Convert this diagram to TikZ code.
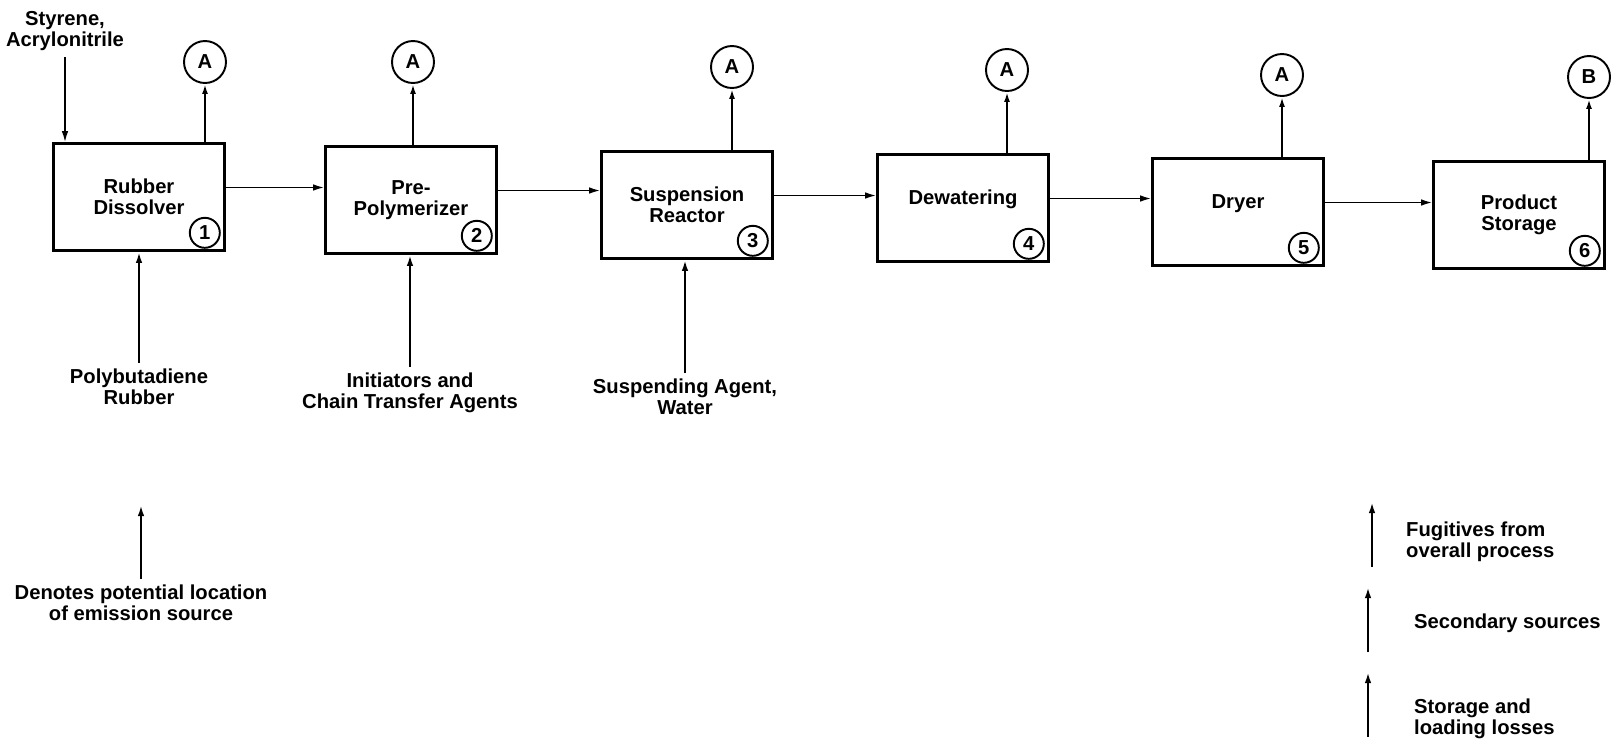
\documentclass[tikz,border=0pt]{standalone}
\usepackage{fontspec}
\setmainfont{Liberation Sans}
\usetikzlibrary{arrows.meta, positioning, calc}
\newcommand{\diagfont}{\fontsize{11.5}{12}\selectfont\bfseries}
\tikzset{
  unitbox/.style={draw, line width=1.5pt, minimum width=3.42cm, minimum height=2.14cm, align=center, font=\diagfont},
  ventcirc/.style={draw, circle, line width=1.1pt, minimum size=0.84cm, inner sep=0pt, font=\diagfont},
  numcirc/.style={draw, circle, line width=1.1pt, minimum size=0.6cm, inner sep=0pt, font=\diagfont},
  feedtext/.style={align=center, font=\diagfont},
  flowarr/.style={-{Latex[length=2.2mm, width=1.3mm]}, line width=0.9pt},
  feedarr/.style={-{Latex[length=2.2mm, width=1.3mm]}, line width=1.3pt},
  ventarr/.style={-{Latex[length=2mm, width=1.2mm]}, line width=1.4pt},
}

\begin{document}
\begin{tikzpicture}[x=0.02cm, y=-0.02cm]
  \useasboundingbox (0,0) rectangle (1612,745);
  % process units
  \node[unitbox] (rd) at (139,197) {Rubber\\Dissolver};
  \node[unitbox] (pp) at (411,200) {Pre-\\Polymerizer};
  \node[unitbox] (sr) at (687,205) {Suspension\\Reactor};
  \node[unitbox] (dw) at (963,208) {Dewatering\\\phantom{X}};
  \node[unitbox] (dr) at (1238,212) {Dryer\\\phantom{X}};
  \node[unitbox] (ps) at (1519,215) {Product\\Storage};
  % step numbers
  \foreach \b/\n in {rd/1, pp/2, sr/3, dw/4, dr/5, ps/6}
    \node[numcirc] (n\n) at ([shift={(-0.42cm,0.38cm)}]\b.south east) {\n};
  % emission points
  \foreach \b/\x/\y/\t in {rd/205/62/A, pp/413/62/A, sr/732/67/A, dw/1007/70/A, dr/1282/75/A, ps/1589/77/B}{
    \node[ventcirc] (v\b) at (\x,\y) {\t};
    \draw[ventarr] (\b.north -| v\b) -- (v\b);
  }
  % main flow
  \foreach \a/\b in {rd/pp, pp/sr, sr/dw, dw/dr, dr/ps}{
    \coordinate (o\a) at ([yshift=0.19cm]\a.east);
    \draw[flowarr] (o\a) -- (o\a -| \b.west);
  }
  % raw materials
  \node[feedtext] (sty) at (65,31) {Styrene,\\Acrylonitrile};
  \draw[flowarr] (sty) -- (sty |- rd.north);
  \node[feedtext] (pbr) at (139,387) {Polybutadiene\\Rubber};
  \node[feedtext] (ini) at (410,393) {Initiators and\\Chain Transfer Agents};
  \node[feedtext] (sus) at (685,397) {Suspending Agent,\\Water};
  \foreach \f/\b in {pbr/rd, ini/pp, sus/sr}
    \draw[feedarr] (\f) -- (\f |- \b.south);
  % legend
  \node[feedtext] (leg) at (141,603) {Denotes potential location\\of emission source};
  \coordinate (legtop) at (143,505);
  \draw[feedarr] (leg) -- (leg |- legtop);
  \node[feedtext, anchor=west, align=left] (fug) at (1400,542) {Fugitives from\\overall process};
  \node[feedtext, anchor=west, align=left] (sec) at (1408,623) {Secondary sources};
  \node[feedtext, anchor=west, align=left] (sto) at (1408,719) {Storage and\\loading losses};
  \foreach \k/\x/\t/\u in {fug/1372/502/567, sec/1368/587/652, sto/1368/672/737}{
    \coordinate (\k t) at (\x,\t);
    \coordinate (\k b) at (\x,\u);
    \draw[feedarr] (\k b) -- (\k t);
  }
\end{tikzpicture}
\end{document}
